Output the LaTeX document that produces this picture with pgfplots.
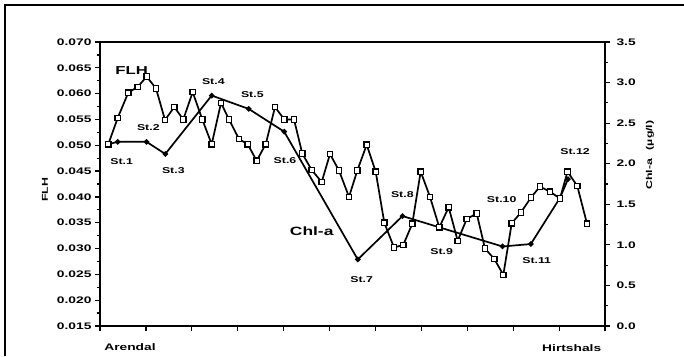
\documentclass[border=0pt]{standalone}
\usepackage{pgfplots}
\pgfplotsset{compat=1.18}
\usepackage{fontspec}
\setmainfont{Liberation Sans}[FakeStretch=1.45, BoldFeatures={FakeStretch=1.45}]
\begin{document}
\begin{tikzpicture}[x=1pt,y=1pt]
\useasboundingbox (0,0) rectangle (684,356);
\draw[line width=1.2pt] (5,0) -- (5,351) -- (684,351);
% Chl-a axis (right), drawn first
\begin{axis}[at={(100pt,30pt)}, anchor=south west, scale only axis,
  width=505pt, height=284pt, xmin=0, xmax=11, ymin=0, ymax=3.5,
  xtick={0,1,2,3,4,5,6,7,8,9,10,11}, xticklabels={},
  ytick={0,0.5,1,1.5,2,2.5,3,3.5}, minor y tick num=1,
  tick align=outside, xtick pos=bottom, ytick pos=right,
  axis line style={line width=1.5pt},
  major tick length=5pt, minor tick length=3pt,
  every tick/.style={black, line width=1.2pt},
  /pgf/number format/assume math mode=true,
  yticklabel style={/pgf/number format/fixed, /pgf/number format/precision=1,
    /pgf/number format/fixed zerofill, font=\bfseries\fontsize{9.5}{10}\selectfont, xshift=3pt},
  clip=false]
\addplot[black, line width=1.7pt, mark=*, mark size=1.8pt] coordinates {
(0.181,2.24) (0.386,2.27) (1.013,2.27) (1.422,2.12) (2.433,2.84) (3.241,2.675)
(4.012,2.395) (5.615,0.82) (6.589,1.355) (7.397,1.215) (8.767,0.98)
(9.384,1.01) (10.02,1.58) (10.194,1.81)};
\end{axis}
% FLH axis (left)
\begin{axis}[at={(100pt,30pt)}, anchor=south west, scale only axis,
  width=505pt, height=284pt, xmin=0, xmax=11, ymin=0.015, ymax=0.070,
  axis x line=none, axis y line*=left,
  ytick={0.015,0.020,0.025,0.030,0.035,0.040,0.045,0.050,0.055,0.060,0.065,0.070},
  minor y tick num=1, scaled y ticks=false,
  tick align=outside,
  axis line style={line width=1.5pt},
  major tick length=5pt, minor tick length=3pt,
  every tick/.style={black, line width=1.2pt},
  /pgf/number format/assume math mode=true,
  yticklabel style={/pgf/number format/fixed, /pgf/number format/precision=3,
    /pgf/number format/fixed zerofill, font=\bfseries\fontsize{9.5}{10}\selectfont},
  clip=false]
\addplot[black, line width=1.7pt, mark=square*, mark size=2.7pt,
  mark options={fill=white, line width=1.2pt}] coordinates {
(0.181,0.0502) (0.386,0.0553) (0.616,0.0602) (0.821,0.0613) (1.017,0.0633)
(1.220,0.0610) (1.416,0.0549) (1.618,0.0574) (1.814,0.0550) (2.019,0.0603)
(2.228,0.0550) (2.433,0.0502) (2.636,0.0582) (2.810,0.0550) (3.028,0.0512)
(3.217,0.0502) (3.413,0.0470) (3.609,0.0502) (3.812,0.0574) (4.014,0.0550)
(4.226,0.0550) (4.406,0.0484) (4.611,0.0452) (4.829,0.0429) (5.010,0.0483)
(5.206,0.0451) (5.424,0.0400) (5.604,0.0451) (5.809,0.0501) (6.005,0.0449)
(6.193,0.0350) (6.404,0.0302) (6.606,0.0307) (6.802,0.0348) (6.985,0.0449)
(7.188,0.0400) (7.391,0.0341) (7.595,0.0380) (7.791,0.0315) (7.987,0.0357)
(8.205,0.0368) (8.386,0.0300) (8.588,0.0280) (8.785,0.0249) (8.968,0.0349)
(9.170,0.0370) (9.388,0.0399) (9.584,0.0420) (9.802,0.0410) (10.020,0.0397)
(10.183,0.0449) (10.397,0.0421) (10.608,0.0348)};
\end{axis}
% labels
\begin{scope}[every node/.style={font=\bfseries\fontsize{8.5}{9}\selectfont, inner sep=0pt}]
\node at (121.7,194.3) {St.1};
\node at (148.3,228.7) {St.2};
\node at (173.3,185.3) {St.3};
\node at (213.3,274.3) {St.4};
\node at (252.3,261.7) {St.5};
\node at (285,195) {St.6};
\node at (361.7,76) {St.7};
\node at (402.3,161) {St.8};
\node at (441.7,104.3) {St.9};
\node at (501.7,156) {St.10};
\node at (536.7,95.3) {St.11};
\node at (575,204.3) {St.12};
\end{scope}
\node[font=\bfseries\fontsize{11.5}{12}\selectfont, inner sep=0pt] at (131.7,285) {FLH};
\node[font=\bfseries\fontsize{12}{13}\selectfont, inner sep=0pt] at (311.7,125) {Chl-a};
\node[font=\bfseries\fontsize{9.5}{10}\selectfont, inner sep=0pt] at (130,8.7) {Arendal};
\node[font=\bfseries\fontsize{9.5}{10}\selectfont, inner sep=0pt] at (571.7,7.7) {Hirtshals};
\node[font=\bfseries\fontsize{8.5}{10}\selectfont, inner sep=0pt, rotate=90] at (45,166) {FLH};
\node[font=\bfseries\fontsize{8.5}{10}\selectfont, inner sep=0pt, rotate=90] at (650,201) {Chl-a\quad (µg/l)};
\end{tikzpicture}
\end{document}
